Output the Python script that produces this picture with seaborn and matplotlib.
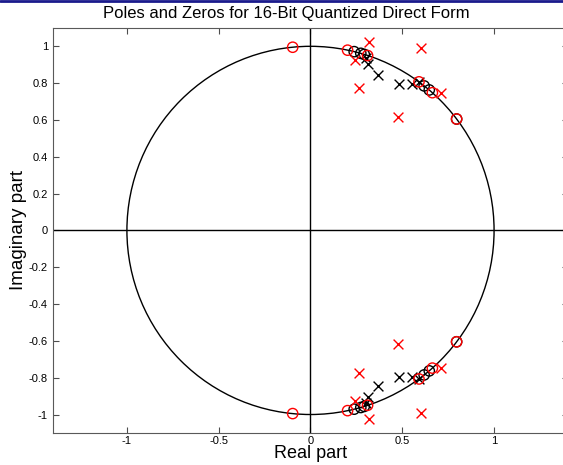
import numpy as np
import matplotlib
matplotlib.use("Agg")
import matplotlib.pyplot as plt
import seaborn as sns
from matplotlib.lines import Line2D

# zeros of the reference filter (black) and the quantized filter (red)
ref_zero_re = [0.238, 0.274, 0.293, 0.619, 0.647, 0.796,
               0.238, 0.274, 0.293, 0.619, 0.647, 0.796]
ref_zero_im = [0.971, 0.962, 0.956, 0.785, 0.763, 0.605,
               -0.971, -0.962, -0.956, -0.785, -0.763, -0.605]
q_zero_re = [-0.097, 0.202, 0.311, 0.591, 0.664, 0.796,
             -0.097, 0.202, 0.311, 0.591, 0.664, 0.796]
q_zero_im = [0.995, 0.979, 0.950, 0.807, 0.748, 0.605,
             -0.995, -0.979, -0.950, -0.807, -0.748, -0.605]

# poles
ref_pole_re = [0.305, 0.311, 0.365, 0.483, 0.555, 0.593,
               0.305, 0.311, 0.365, 0.483, 0.555, 0.593]
ref_pole_im = [0.935, 0.905, 0.844, 0.795, 0.795, 0.805,
               -0.935, -0.905, -0.844, -0.795, -0.795, -0.805]
q_pole_re = [0.320, 0.243, 0.262, 0.601, 0.479, 0.709,
             0.320, 0.243, 0.262, 0.601, 0.479, 0.709]
q_pole_im = [1.025, 0.925, 0.772, 0.993, 0.618, 0.748,
             -1.025, -0.925, -0.772, -0.993, -0.618, -0.748]

x_ticks = [-1, -0.5, 0, 0.5, 1]
x_labels = ["-1", "-0.5", "0", "0.5", "1"]
y_ticks = [1, 0.8, 0.6, 0.4, 0.2, 0, -0.2, -0.4, -0.6, -0.8, -1]
y_labels = ["1", "0.8", "0.6", "0.4", "0.2", "0", "-0.2", "-0.4", "-0.6", "-0.8", "-1"]

sns.set_style("ticks")
plt.rcParams["font.family"] = ["Liberation Sans", "DejaVu Sans"]
plt.rcParams["text.color"] = "black"
plt.rcParams["axes.labelcolor"] = "black"
plt.rcParams["xtick.labelcolor"] = "black"
plt.rcParams["ytick.labelcolor"] = "black"

fig = plt.figure(figsize=(5.63, 4.65), dpi=100)
ax = fig.add_axes([0.095, 0.069, 0.913, 0.871])

# unit circle and axes lines
ax.add_patch(plt.Circle((0, 0), 1, fill=False, color="black", lw=1))
ax.axhline(0, color="black", lw=1)
ax.axvline(0, color="black", lw=1)

sns.scatterplot(x=ref_zero_re, y=ref_zero_im, marker="o", s=55,
                facecolors="none", edgecolors="black", linewidth=1, ax=ax)
sns.scatterplot(x=ref_pole_re, y=ref_pole_im, marker="x", s=50,
                color="black", linewidth=1, ax=ax)
sns.scatterplot(x=q_zero_re, y=q_zero_im, marker="o", s=55,
                facecolors="none", edgecolors="red", linewidth=1, ax=ax)
sns.scatterplot(x=q_pole_re, y=q_pole_im, marker="x", s=50,
                color="red", linewidth=1, ax=ax)

ax.set_xlim(-1.4, 1.4)
ax.set_ylim(-1.1, 1.1)
ax.set_xticks(x_ticks)
ax.set_xticklabels(x_labels)
ax.set_yticks(y_ticks)
ax.set_yticklabels(y_labels)
ax.tick_params(direction="in", top=True, right=True, length=4,
               labelsize=8, color="0.3", pad=4)
ax.tick_params(axis="x", pad=2.5)
for sp in ax.spines.values():
    sp.set_color("0.35")
    sp.set_linewidth(0.8)

ax.set_xlabel("Real part", fontsize=13, labelpad=-1)
ax.set_ylabel("Imaginary part", fontsize=13.5, labelpad=1)
fig.text(0.508, 0.97, "Poles and Zeros for 16-Bit Quantized Direct Form",
         ha="center", va="center", fontsize=12)

# window border at the top
fig.add_artist(Line2D([0, 1], [0.998, 0.998], color="#1a1a8c", lw=2,
                      transform=fig.transFigure))

fig.savefig("out.png", dpi=100)
plt.close(fig)
